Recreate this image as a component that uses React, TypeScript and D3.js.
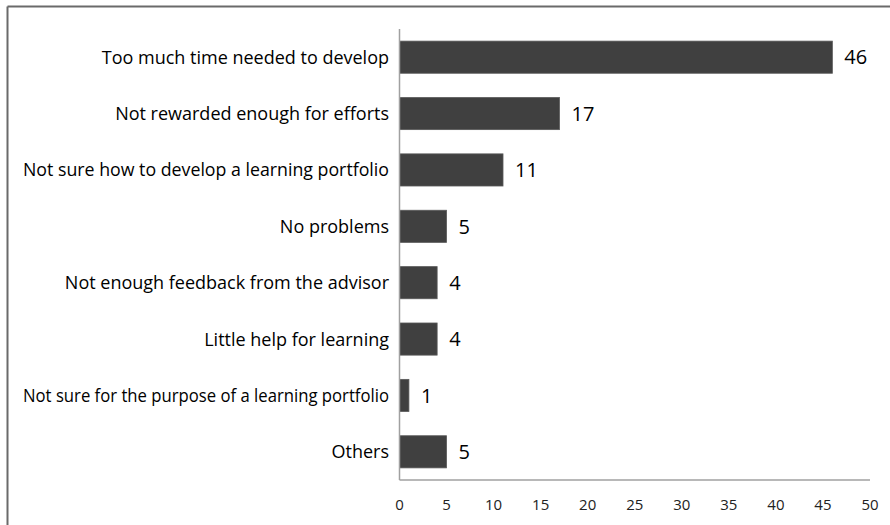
import React, { useEffect, useRef } from "react";
import * as d3 from "d3";

const categories = [
  "Too much time needed to develop",
  "Not rewarded enough for efforts",
  "Not sure how to develop a learning portfolio",
  "No problems",
  "Not enough feedback from the advisor",
  "Little help for learning",
  "Not sure for the purpose of a learning portfolio",
  "Others",
];
const values = [46, 17, 11, 5, 4, 4, 1, 5];
const xTicks = [0, 5, 10, 15, 20, 25, 30, 35, 40, 45, 50];

const W = 890;
const H = 525;
const FONT = "'Open Sans', 'Noto Sans', sans-serif";
const LABEL_MAX = 366;

export default function App() {
  const ref = useRef<SVGSVGElement>(null);
  const x = d3.scaleLinear().domain([0, 50]).range([399.5, 870]);
  const y = d3.scaleBand<string>().domain(categories).range([29, 480]).paddingInner(0.43).paddingOuter(0.215);

  useEffect(() => {
    if (!ref.current) return;
    d3.select(ref.current)
      .selectAll<SVGTextElement, unknown>("text.cat")
      .each(function () {
        const len = this.getComputedTextLength();
        if (len > LABEL_MAX) {
          this.setAttribute("textLength", String(LABEL_MAX));
          this.setAttribute("lengthAdjust", "spacingAndGlyphs");
        }
      });
  }, []);

  return (
    <svg ref={ref} width={W} height={H} style={{ position: "absolute", left: 0, top: 0 }}>
      <rect x={0} y={0} width={W} height={H} fill="#fff" />
      <line x1={7.5} y1={6.5} x2={W} y2={6.5} stroke="#6a6a6a" strokeWidth={2} />
      <line x1={7.5} y1={6.5} x2={7.5} y2={H} stroke="#6a6a6a" strokeWidth={2} />
      {categories.map((c, i) => (
        <g key={c}>
          <rect
            x={x(0)}
            y={y(c)!}
            width={x(values[i]) - x(0)}
            height={y.bandwidth()}
            fill="#404040"
            stroke="#5a5a5a"
            strokeWidth={0.8}
          />
          <text
            x={x(values[i]) + 12}
            y={y(c)! + y.bandwidth() / 2}
            dy="0.36em"
            fontFamily={FONT}
            fontSize={20}
            fill="#000"
          >
            {values[i]}
          </text>
          <text
            className="cat"
            x={389}
            y={y(c)! + y.bandwidth() / 2}
            dy="0.36em"
            textAnchor="end"
            fontFamily={FONT}
            fontSize={18}
            fill="#000"
          >
            {c}
          </text>
        </g>
      ))}
      <line x1={x(0)} y1={29} x2={x(0)} y2={480} stroke="#a0a0a0" strokeWidth={1.5} />
      <line x1={x(0)} y1={480} x2={x(50)} y2={480} stroke="#a0a0a0" strokeWidth={1.5} />
      {xTicks.map((t) => (
        <text
          key={t}
          x={x(t)}
          y={505}
          dy="0.36em"
          textAnchor="middle"
          fontFamily={FONT}
          fontSize={15}
          fill="#222"
        >
          {t}
        </text>
      ))}
    </svg>
  );
}
